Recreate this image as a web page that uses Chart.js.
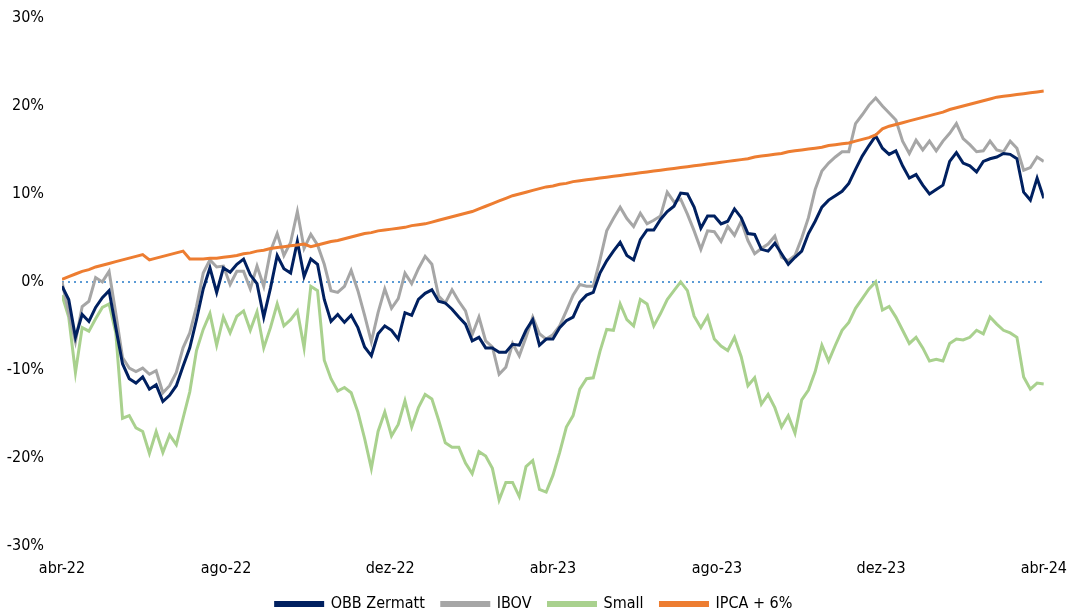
<!DOCTYPE html>
<html lang="pt-BR">
<head>
<meta charset="utf-8">
<title>OBB Zermatt vs IBOV, Small e IPCA + 6%</title>
<script src="https://cdn.jsdelivr.net/npm/chart.js@4.4.1/dist/chart.umd.min.js"></script>
<style>
  html, body { margin: 0; padding: 0; background: #fff; }
  #wrap { width: 1068px; height: 614px; }
</style>
</head>
<body>
<div id="wrap"><canvas id="grafico" width="1068" height="614"></canvas></div>
<script>
// Série com um ponto a cada 5 dias, a partir de abr-22 (retorno acumulado em %)
const PASSO_DIAS = 5;

const obbZermatt = [
  -0.5, -2.0, -6.3, -3.7, -4.5, -2.9, -1.8, -1.0, -5.2, -9.3,
  -11.0, -11.5, -10.8, -12.2, -11.7, -13.6, -12.9, -11.8, -9.6, -7.5,
  -4.3, -0.8, 1.6, -1.2, 1.6, 1.1, 2.0, 2.6, 0.8, -0.2,
  -4.0, -0.7, 3.0, 1.5, 1.0, 4.6, 0.6, 2.6, 2.0, -2.0,
  -4.5, -3.7, -4.6, -3.8, -5.2, -7.4, -8.4, -5.9, -5.0, -5.5,
  -6.5, -3.5, -3.8, -2.0, -1.3, -0.9, -2.2, -2.4, -3.1, -4.0,
  -4.8, -6.7, -6.3, -7.5, -7.5, -8.0, -8.0, -7.1, -7.2, -5.5,
  -4.3, -7.2, -6.5, -6.5, -5.2, -4.4, -4.0, -2.3, -1.5, -1.2,
  1.0, 2.4, 3.5, 4.5, 3.0, 2.5, 4.8, 5.9, 5.9, 7.1,
  8.0, 8.6, 10.1, 10.0, 8.5, 6.1, 7.5, 7.5, 6.6, 6.9,
  8.3, 7.3, 5.5, 5.4, 3.7, 3.5, 4.4, 3.2, 2.0, 2.8,
  3.5, 5.5, 6.9, 8.5, 9.3, 9.8, 10.3, 11.2, 12.8, 14.3,
  15.5, 16.6, 15.2, 14.5, 14.9, 13.2, 11.8, 12.2, 11.0, 10.0,
  10.5, 11.0, 13.7, 14.7, 13.5, 13.2, 12.5, 13.7, 14.0, 14.2,
  14.6, 14.5, 14.0, 10.2, 9.3, 11.8, 9.5
];

const ibov = [
  0.0, -3.5, -6.8, -2.8, -2.2, 0.5, 0.0, 1.2, -3.6, -8.6,
  -9.8, -10.2, -9.8, -10.5, -10.1, -12.6, -11.8, -10.3, -7.5, -5.8,
  -2.8, 1.0, 2.5, 1.7, 1.8, -0.3, 1.2, 1.2, -0.8, 1.8,
  -0.5, 3.5, 5.5, 3.0, 4.5, 8.0, 3.8, 5.4, 4.2, 2.0,
  -1.0, -1.2, -0.5, 1.3, -1.0, -3.8, -6.8, -3.5, -0.8, -3.0,
  -1.9, 1.0, -0.2, 1.5, 2.9, 2.0, -1.6, -2.4, -0.9, -2.2,
  -3.3, -6.0, -4.0, -6.7, -7.4, -10.5, -9.7, -7.0, -8.4, -6.3,
  -4.0, -5.9, -6.5, -6.0, -5.0, -3.3, -1.5, -0.3, -0.5, -0.5,
  2.5, 5.8, 7.2, 8.5, 7.2, 6.3, 7.8, 6.6, 7.0, 7.5,
  10.2, 9.1, 9.4, 7.7, 5.8, 3.7, 5.8, 5.7, 4.6, 6.3,
  5.3, 6.9, 4.7, 3.2, 3.8, 4.3, 5.2, 2.8, 2.4, 3.0,
  5.0, 7.3, 10.5, 12.6, 13.5, 14.2, 14.8, 14.8, 18.0, 19.0,
  20.1, 20.9, 20.0, 19.2, 18.4, 16.0, 14.6, 16.1, 15.0, 16.0,
  14.9, 16.0, 16.9, 18.0, 16.3, 15.6, 14.8, 14.9, 16.0, 15.0,
  14.8, 16.0, 15.2, 12.7, 13.0, 14.2, 13.7
];

const small = [
  -1.5, -4.0, -10.3, -5.2, -5.6, -4.2, -2.9, -2.5, -5.8, -15.5,
  -15.2, -16.6, -17.0, -19.5, -17.0, -19.4, -17.4, -18.5, -15.5, -12.5,
  -7.8, -5.4, -3.6, -7.2, -4.0, -5.8, -3.9, -3.3, -5.5, -3.4,
  -7.5, -5.2, -2.5, -5.0, -4.3, -3.3, -7.5, -0.5, -1.0, -8.9,
  -11.0, -12.4, -12.0, -12.6, -14.8, -17.8, -21.2, -17.0, -14.8, -17.5,
  -16.2, -13.5, -16.5, -14.3, -12.8, -13.3, -15.7, -18.3, -18.8, -18.8,
  -20.6, -21.8, -19.3, -19.8, -21.2, -24.8, -22.8, -22.8, -24.4, -21.0,
  -20.3, -23.6, -23.9, -22.0, -19.4, -16.5, -15.2, -12.2, -11.0, -10.9,
  -7.9, -5.4, -5.5, -2.5, -4.3, -5.0, -2.0, -2.5, -5.0, -3.6,
  -2.0, -1.0, 0.0, -1.0, -3.9, -5.2, -3.9, -6.5, -7.3, -7.8,
  -6.3, -8.5, -11.8, -10.9, -13.9, -12.8, -14.3, -16.5, -15.2, -17.2,
  -13.4, -12.3, -10.2, -7.2, -9.0, -7.2, -5.5, -4.6, -3.0, -1.9,
  -0.8, 0.0, -3.2, -2.8, -4.0, -5.5, -7.0, -6.3, -7.5, -9.0,
  -8.8, -9.0, -7.0, -6.5, -6.6, -6.3, -5.5, -5.9, -4.0, -4.8,
  -5.5, -5.8, -6.3, -10.8, -12.2, -11.5, -11.6
];

const ipcaMais6 = [
  0.3, 0.6, 0.9, 1.2, 1.4, 1.7, 1.9, 2.1, 2.3, 2.5,
  2.7, 2.9, 3.1, 2.5, 2.7, 2.9, 3.1, 3.3, 3.5, 2.6,
  2.6, 2.6, 2.7, 2.7, 2.8, 2.9, 3.0, 3.2, 3.3, 3.5,
  3.6, 3.8, 3.9, 4.0, 4.1, 4.2, 4.3, 4.0, 4.2, 4.4,
  4.6, 4.7, 4.9, 5.1, 5.3, 5.5, 5.6, 5.8, 5.9, 6.0,
  6.1, 6.2, 6.4, 6.5, 6.6, 6.8, 7.0, 7.2, 7.4, 7.6,
  7.8, 8.0, 8.3, 8.6, 8.9, 9.2, 9.5, 9.8, 10.0, 10.2,
  10.4, 10.6, 10.8, 10.9, 11.1, 11.2, 11.4, 11.5, 11.6, 11.7,
  11.8, 11.9, 12.0, 12.1, 12.2, 12.3, 12.4, 12.5, 12.6, 12.7,
  12.8, 12.9, 13.0, 13.1, 13.2, 13.3, 13.4, 13.5, 13.6, 13.7,
  13.8, 13.9, 14.0, 14.2, 14.3, 14.4, 14.5, 14.6, 14.8, 14.9,
  15.0, 15.1, 15.2, 15.3, 15.5, 15.6, 15.7, 15.8, 16.0, 16.2,
  16.4, 16.7, 17.4, 17.7, 17.9, 18.1, 18.3, 18.5, 18.7, 18.9,
  19.1, 19.3, 19.6, 19.8, 20.0, 20.2, 20.4, 20.6, 20.8, 21.0,
  21.1, 21.2, 21.3, 21.4, 21.5, 21.6, 21.7
];

// Rótulos do eixo X (meses) e dia correspondente desde abr-22
const rotulosMeses = ["abr-22", "ago-22", "dez-22", "abr-23", "ago-23", "dez-23", "abr-24"];
const diasMeses = [0, 122, 244, 365, 487, 609, 730];

const fonte = "'DejaVu Sans Condensed', 'DejaVu Sans', sans-serif";
const transparente = "rgba(0,0,0,0)";

// transforme une série en points {x, y}
const pontos = (serie) => serie.map((v, i) => ({ x: i * PASSO_DIAS, y: v }));

const linha = (label, serie, cor, ordem) => ({
  label: label,
  data: pontos(serie),
  borderColor: cor,
  backgroundColor: cor,
  borderWidth: 3,
  pointRadius: 0,
  tension: 0,
  order: ordem,
});

new Chart(document.getElementById("grafico").getContext("2d"), {
  type: "line",
  data: {
    datasets: [
      linha("OBB Zermatt", obbZermatt, "#002060", 1),
      linha("IBOV", ibov, "#A6A6A6", 2),
      linha("Small", small, "#A9D18E", 3),
      linha("IPCA + 6%", ipcaMais6, "#ED7D31", 0),
    ],
  },
  options: {
    responsive: false,
    animation: false,
    layout: { padding: { top: 18, right: 0, left: 0, bottom: 0 } },
    plugins: {
      tooltip: { enabled: false },
      legend: {
        position: "bottom",
        maxHeight: 35,
        labels: {
          boxWidth: 47,
          boxHeight: 3,
          padding: 17,
          color: "#000",
          font: { family: fonte, size: 16 },
          sort: (a, b) => a.datasetIndex - b.datasetIndex,
        },
      },
    },
    scales: {
      x: {
        type: "linear",
        min: 0,
        max: 730,
        afterBuildTicks: (scale) => {
          scale.ticks = diasMeses.map((d) => ({ value: d }));
        },
        ticks: {
          autoSkip: false,
          maxRotation: 0,
          padding: 1,
          color: "#000",
          font: { family: fonte, size: 16 },
          callback: (v) => rotulosMeses[diasMeses.indexOf(v)],
        },
        // marcas invisíveis só para afastar os rótulos do gráfico
        grid: {
          drawOnChartArea: false,
          drawTicks: true,
          tickLength: 12,
          color: transparente,
          tickColor: transparente,
        },
        border: { display: false },
      },
      y: {
        min: -30,
        max: 30,
        afterFit: (scale) => { scale.width = 62; },
        ticks: {
          stepSize: 10,
          padding: 2,
          color: "#000",
          font: { family: fonte, size: 16 },
          callback: (v) => v + "%",
        },
        grid: {
          drawTicks: true,
          tickLength: 16,
          tickColor: transparente,
          lineWidth: (ctx) => (ctx.tick && ctx.tick.value === 0 ? 2 : 0),
          color: (ctx) => (ctx.tick && ctx.tick.value === 0 ? "#5B9BD5" : transparente),
        },
        border: { display: false, dash: [2, 4] },
      },
    },
  },
});
</script>
</body>
</html>
